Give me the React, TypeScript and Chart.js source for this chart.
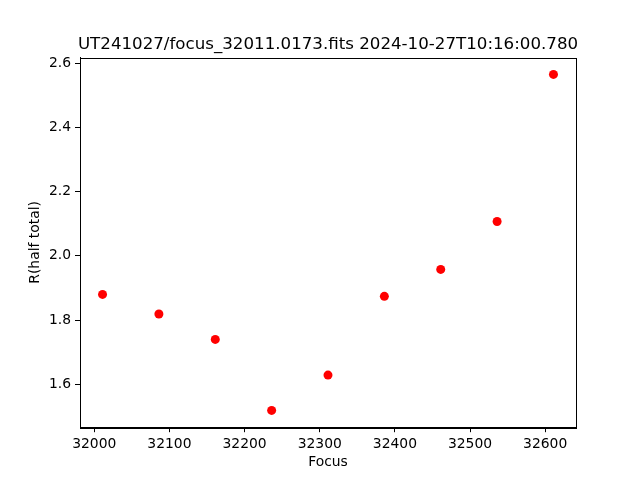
import React, { useEffect, useRef } from "react";
import { Chart, registerables } from "chart.js";

Chart.register(...registerables);

const focusValues = [32011, 32086, 32161, 32236, 32311, 32386, 32461, 32536, 32611];
const radiusValues = [1.880, 1.819, 1.740, 1.519, 1.629, 1.874, 1.958, 2.107, 2.565];
const xTickValues = [32000, 32100, 32200, 32300, 32400, 32500, 32600];
const yTickValues = [1.6, 1.8, 2.0, 2.2, 2.4, 2.6];
const titleText = "UT241027/focus_32011.0173.fits 2024-10-27T10:16:00.780";
const xLabel = "Focus";
const yLabel = "R(half total)";

const FONT = "'DejaVu Sans', sans-serif";

export default function App() {
  const ref = useRef<HTMLCanvasElement | null>(null);
  useEffect(() => {
    document.body.style.margin = "0";
    const canvas = ref.current;
    if (!canvas) return;
    const xMin = Math.min(...focusValues);
    const xMax = Math.max(...focusValues);
    const yMin = Math.min(...radiusValues);
    const yMax = Math.max(...radiusValues);
    const xm = (xMax - xMin) * 0.05;
    const ym = (yMax - yMin) * 0.05;

    const framePlugin = {
      id: "frame",
      afterDraw(chart: any) {
        const { ctx, chartArea } = chart;
        const { left, right, top, bottom } = chartArea;
        ctx.save();
        ctx.strokeStyle = "#000";
        ctx.lineWidth = 1;
        ctx.strokeRect(Math.round(left) + 0.5, Math.round(top) + 0.5, Math.round(right - left), Math.round(bottom - top));
        ctx.fillStyle = "#000";
        ctx.textAlign = "center";
        ctx.textBaseline = "alphabetic";
        ctx.font = `16.67px ${FONT}`;
        ctx.fillText(titleText, (left + right) / 2, top - 8.5);
        ctx.font = `13.89px ${FONT}`;
        ctx.textBaseline = "middle";
        ctx.fillText(xLabel, (left + right) / 2, 462);
        ctx.translate(35, (top + bottom) / 2);
        ctx.rotate(-Math.PI / 2);
        ctx.fillText(yLabel, 0, 0);
        ctx.restore();
      },
    };

    const chart = new Chart(canvas, {
      type: "scatter",
      data: {
        datasets: [
          {
            data: focusValues.map((x, i) => ({ x, y: radiusValues[i] })),
            backgroundColor: "#ff0000",
            borderWidth: 0,
            pointRadius: 4.5,
          },
        ],
      },
      options: {
        responsive: false,
        animation: false,
        layout: { padding: { top: 57.6, left: 0, right: 64, bottom: 0 } },
        plugins: { legend: { display: false }, tooltip: { enabled: false }, title: { display: false } },
        scales: {
          x: {
            type: "linear",
            min: xMin - xm,
            max: xMax + xm,
            afterFit: (s: any) => { s.height = 52.8; },
            afterBuildTicks: (s: any) => { s.ticks = xTickValues.map((v) => ({ value: v })); },
            grid: { drawOnChartArea: false, tickLength: 5, tickColor: "#000", lineWidth: 1 },
            border: { color: "#000" },
            ticks: {
              color: "#000",
              padding: 4,
              font: { family: FONT, size: 13.89 },
              maxRotation: 0,
              autoSkip: false,
              callback: (v: any) => String(v),
            },
          },
          y: {
            type: "linear",
            min: yMin - ym,
            max: yMax + ym,
            afterFit: (s: any) => { s.width = 80; },
            afterBuildTicks: (s: any) => { s.ticks = yTickValues.map((v) => ({ value: v })); },
            grid: { drawOnChartArea: false, tickLength: 5, tickColor: "#000", lineWidth: 1 },
            border: { color: "#000" },
            ticks: {
              color: "#000",
              padding: 4,
              font: { family: FONT, size: 13.89 },
              autoSkip: false,
              callback: (v: any) => Number(v).toFixed(1),
            },
          },
        },
      },
      plugins: [framePlugin],
    } as any);
    return () => chart.destroy();
  }, []);
  return (
    <div style={{ width: 640, height: 480, background: "#fff" }}>
      <canvas ref={ref} width={640} height={480} style={{ display: "block" }} />
    </div>
  );
}
